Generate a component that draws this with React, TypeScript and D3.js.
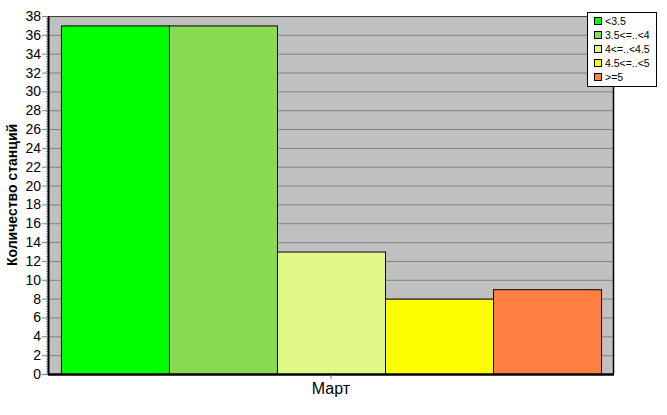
import React from "react";
import * as d3 from "d3";

const categories = ["Март"];
const seriesNames = ["<3.5", "3.5<=..<4", "4<=..<4.5", "4.5<=..<5", ">=5"];
const seriesValues = [37, 37, 13, 8, 9];
const seriesColors = ["#00FF00", "#88DA50", "#E0F888", "#FFFF00", "#FF8040"];
const yTicks = d3.range(0, 39, 2);
const yLabel = "Количество станций";

const W = 667, H = 415;
const M = { left: 48, top: 16, right: 614, bottom: 374 };

export default function App() {
  const y = d3.scaleLinear().domain([0, 38]).range([M.bottom, M.top]);
  const xCat = d3.scaleBand().domain(categories).range([M.left, M.right]).paddingInner(0).paddingOuter(0.024);
  const xSeries = d3.scaleBand().domain(seriesNames).range([0, xCat.bandwidth()]).padding(0);
  const font = "'Liberation Sans', Arial, sans-serif";
  const cat = categories[0];
  const cx = (xCat(cat) ?? 0) + xCat.bandwidth() / 2;
  return (
    <svg width={W} height={H} style={{ position: "absolute", left: 0, top: 0, background: "#fff" }} fontFamily={font}>
      <rect x={M.left} y={M.top} width={M.right - M.left} height={M.bottom - M.top} fill="#C0C0C0" />
      {yTicks.map((t) => (
        <line key={"g" + t} x1={M.left} x2={M.right} y1={y(t) + 0.5} y2={y(t) + 0.5} stroke="#808080" strokeWidth={1} />
      ))}
      {seriesNames.map((s, i) => {
        const x0 = (xCat(cat) ?? 0) + (xSeries(s) ?? 0);
        return (
          <rect key={s} x={x0 + 0.5} y={y(seriesValues[i]) + 0.5} width={xSeries.bandwidth()} height={M.bottom - y(seriesValues[i])}
            fill={seriesColors[i]} stroke="#000" strokeWidth={1} />
        );
      })}
      {/* frame */}
      <line x1={M.left} x2={M.right} y1={M.top + 0.5} y2={M.top + 0.5} stroke="#404040" strokeWidth={1} />
      <line x1={M.right - 0.5} x2={M.right - 0.5} y1={M.top} y2={M.bottom} stroke="#000" strokeWidth={1.5} />
      {/* y axis */}
      <line x1={M.left + 0.5} x2={M.left + 0.5} y1={M.top} y2={M.bottom + 1} stroke="#000" strokeWidth={2} />
      <line x1={M.left - 1} x2={M.left - 1} y1={M.top} y2={M.bottom} stroke="#000" strokeWidth={1} strokeDasharray="1,1.5" opacity={0.7} />
      {yTicks.map((t) => (
        <g key={"t" + t}>
          <line x1={M.left - 6} x2={M.left} y1={y(t) + 0.5} y2={y(t) + 0.5} stroke="#808080" strokeWidth={1} />
          <text x={M.left - 7} y={y(t) + 5} textAnchor="end" fontSize={14} fill="#000">{t}</text>
        </g>
      ))}
      {/* x axis */}
      <line x1={M.left} x2={M.right} y1={M.bottom + 0.5} y2={M.bottom + 0.5} stroke="#000" strokeWidth={2.5} />
      <line x1={cx} x2={cx} y1={M.bottom + 1} y2={M.bottom + 5} stroke="#808080" strokeWidth={1} />
      <text x={cx} y={394} textAnchor="middle" fontSize={16} fill="#000">{cat}</text>
      <text transform={`translate(17,${(M.top + M.bottom) / 2}) rotate(-90)`} textAnchor="middle" fontSize={14} fontWeight="bold" fill="#000">{yLabel}</text>
      {/* legend */}
      <rect x={587.5} y={12.5} width={69} height={74} fill="#fff" stroke="#000" strokeWidth={1} />
      {seriesNames.map((s, i) => (
        <g key={"l" + s} transform={`translate(594,${21 + i * 14})`}>
          <rect x={0.5} y={-3.5} width={7} height={7} fill={seriesColors[i]} stroke="#000" strokeWidth={1} />
          <text x={11} y={3.5} fontSize={10.5} fill="#000">{s}</text>
        </g>
      ))}
    </svg>
  );
}
